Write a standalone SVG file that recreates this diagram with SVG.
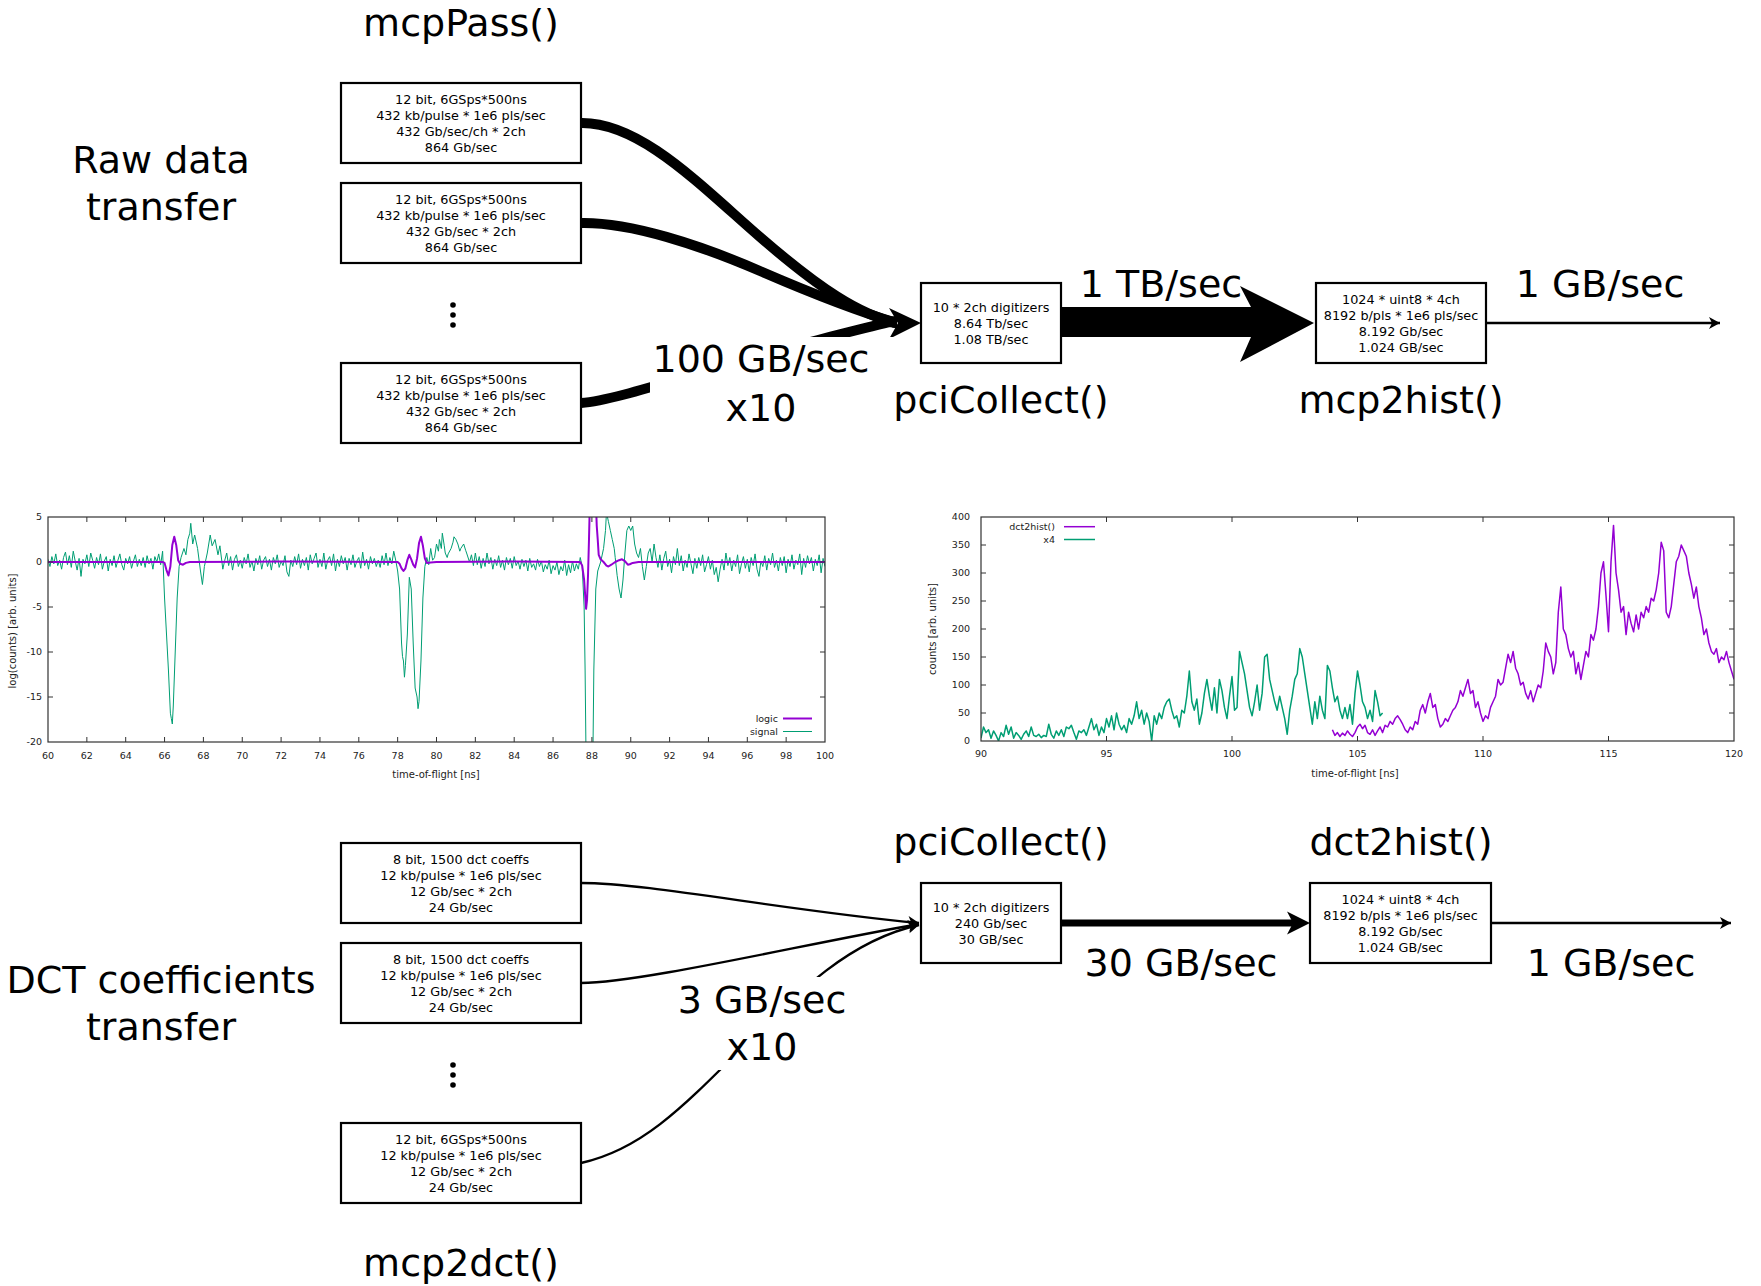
<svg xmlns="http://www.w3.org/2000/svg" width="1761" height="1286" viewBox="0 0 1761 1286">
<style>
.big{font-family:"DejaVu Sans",sans-serif;font-size:38px;text-anchor:middle;fill:#000}
.box rect{fill:#fff;stroke:#000;stroke-width:2.2}
.box text{font-family:"DejaVu Sans",sans-serif;font-size:12.8px;text-anchor:middle;fill:#000}
.thick{fill:none;stroke:#000;stroke-width:10}
.thin{fill:none;stroke:#000;stroke-width:2.4}
.tk{font-family:"DejaVu Sans",sans-serif;font-size:9.5px;fill:#222}
.tx{text-anchor:middle}
.ty{text-anchor:end}
.lab{font-family:"DejaVu Sans",sans-serif;font-size:10px;fill:#222;text-anchor:middle}
.frame{fill:none;stroke:#333;stroke-width:1.2}
.tick{fill:none;stroke:#333;stroke-width:1}
.pur{fill:none;stroke:#9400d3;stroke-linejoin:round;vector-effect:non-scaling-stroke}
.grn{fill:none;stroke:#009e73;stroke-linejoin:round;vector-effect:non-scaling-stroke}
.dot{fill:#000}
</style>
<defs>
<marker id="ahThin" markerUnits="userSpaceOnUse" markerWidth="14" markerHeight="14" refX="11" refY="6" orient="auto" overflow="visible"><path d="M0,0 L11,6 L0,12 L3,6 Z" fill="#000"/></marker>
<marker id="ahMid" markerUnits="userSpaceOnUse" markerWidth="26" markerHeight="24" refX="9" refY="11.5" orient="auto" overflow="visible"><path d="M0,0 L23,11.5 L0,23 L6,11.5 Z" fill="#000"/></marker>
<clipPath id="clipL"><rect x="48" y="517" width="777" height="225"/></clipPath>
<clipPath id="clipR"><rect x="981" y="517" width="753" height="224"/></clipPath>
</defs>
<rect width="1761" height="1286" fill="#fff"/>

<g id="connectors">
<path class="thick" d="M581,123 C640,122 700,185 760,237 S860,315 897,323"/>
<path class="thick" d="M581,223 C630,222 700,245 760,271 S860,312 897,323"/>
<path class="thick" d="M581,403 C620,400 700,370 818,340 S880,325 897,323"/>
<path d="M921,323 L889,308 L898,323 L889,339 Z" fill="#000"/>
<path d="M1061,307 L1251,307 L1240,286 L1314,323 L1240,362 L1251,337 L1061,337 Z" fill="#000"/>
<path class="thin" d="M1486,323 H1720" marker-end="url(#ahThin)"/>
<path class="thin" d="M581,883 C650,883 780,910 919,923" marker-end="url(#ahThin)"/>
<path class="thin" d="M581,983 C640,983 800,945 919,924" marker-end="url(#ahThin)"/>
<path class="thin" d="M581,1163 C640,1150 680,1110 740,1050 S850,940 919,925" marker-end="url(#ahThin)"/>
<path d="M1061,923 H1296" fill="none" stroke="#000" stroke-width="7" marker-end="url(#ahMid)"/>
<path class="thin" d="M1491,923 H1731" marker-end="url(#ahThin)"/>
</g>

<g id="label-100GB">
<rect x="650" y="337" width="255" height="95" fill="#fff"/>
<text class="big" x="761" y="372">100 GB/sec</text>
<text class="big" x="761" y="421">x10</text>
</g>
<g id="label-3GB">
<rect x="676" y="977" width="172" height="93" fill="#fff"/>
<text class="big" x="762" y="1013">3 GB/sec</text>
<text class="big" x="762" y="1060">x10</text>
</g>
<g id="label-1TB"><text class="big" x="1161" y="297">1 TB/sec</text></g>
<g id="label-1GB-top"><text class="big" x="1600" y="297">1 GB/sec</text></g>
<g id="label-30GB"><text class="big" x="1181" y="976">30 GB/sec</text></g>
<g id="label-1GB-bottom"><text class="big" x="1611" y="976">1 GB/sec</text></g>

<g id="title-raw"><text class="big" x="161" y="173">Raw data</text><text class="big" x="161" y="220">transfer</text></g>
<g id="title-dct"><text class="big" x="161" y="993">DCT coefficients</text><text class="big" x="161" y="1040">transfer</text></g>
<g id="title-mcpPass"><text class="big" x="461" y="36">mcpPass()</text></g>
<g id="title-mcp2dct"><text class="big" x="461" y="1276">mcp2dct()</text></g>

<g id="raw1" class="box"><rect x="341" y="83" width="240" height="80"/>
<text x="461" y="104">12 bit, 6GSps*500ns</text><text x="461" y="120">432 kb/pulse * 1e6 pls/sec</text><text x="461" y="136">432 Gb/sec/ch * 2ch</text><text x="461" y="152">864 Gb/sec</text></g>
<g id="raw2" class="box"><rect x="341" y="183" width="240" height="80"/>
<text x="461" y="204">12 bit, 6GSps*500ns</text><text x="461" y="220">432 kb/pulse * 1e6 pls/sec</text><text x="461" y="236">432 Gb/sec * 2ch</text><text x="461" y="252">864 Gb/sec</text></g>
<g id="raw-dots"><circle class="dot" cx="453" cy="305" r="2.8"/><circle class="dot" cx="453" cy="315" r="2.8"/><circle class="dot" cx="453" cy="325" r="2.8"/></g>
<g id="raw3" class="box"><rect x="341" y="363" width="240" height="80"/>
<text x="461" y="384">12 bit, 6GSps*500ns</text><text x="461" y="400">432 kb/pulse * 1e6 pls/sec</text><text x="461" y="416">432 Gb/sec * 2ch</text><text x="461" y="432">864 Gb/sec</text></g>

<g id="pciCollect-top" class="box"><rect x="921" y="283" width="140" height="80"/>
<text x="991" y="312">10 * 2ch digitizers</text><text x="991" y="328">8.64 Tb/sec</text><text x="991" y="344">1.08 TB/sec</text></g>
<g id="pciCollect-top-title"><text class="big" x="1001" y="413">pciCollect()</text></g>
<g id="mcp2hist" class="box"><rect x="1316" y="283" width="170" height="80"/>
<text x="1401" y="304">1024 * uint8 * 4ch</text><text x="1401" y="320">8192 b/pls * 1e6 pls/sec</text><text x="1401" y="336">8.192 Gb/sec</text><text x="1401" y="352">1.024 GB/sec</text></g>
<g id="mcp2hist-title"><text class="big" x="1401" y="413">mcp2hist()</text></g>

<g id="dct1" class="box"><rect x="341" y="843" width="240" height="80"/>
<text x="461" y="864">8 bit, 1500 dct coeffs</text><text x="461" y="880">12 kb/pulse * 1e6 pls/sec</text><text x="461" y="896">12 Gb/sec * 2ch</text><text x="461" y="912">24 Gb/sec</text></g>
<g id="dct2" class="box"><rect x="341" y="943" width="240" height="80"/>
<text x="461" y="964">8 bit, 1500 dct coeffs</text><text x="461" y="980">12 kb/pulse * 1e6 pls/sec</text><text x="461" y="996">12 Gb/sec * 2ch</text><text x="461" y="1012">24 Gb/sec</text></g>
<g id="dct-dots"><circle class="dot" cx="453" cy="1065" r="2.8"/><circle class="dot" cx="453" cy="1075" r="2.8"/><circle class="dot" cx="453" cy="1085" r="2.8"/></g>
<g id="dct3" class="box"><rect x="341" y="1123" width="240" height="80"/>
<text x="461" y="1144">12 bit, 6GSps*500ns</text><text x="461" y="1160">12 kb/pulse * 1e6 pls/sec</text><text x="461" y="1176">12 Gb/sec * 2ch</text><text x="461" y="1192">24 Gb/sec</text></g>

<g id="pciCollect-bottom" class="box"><rect x="921" y="883" width="140" height="80"/>
<text x="991" y="912">10 * 2ch digitizers</text><text x="991" y="928">240 Gb/sec</text><text x="991" y="944">30 GB/sec</text></g>
<g id="pciCollect-bottom-title"><text class="big" x="1001" y="855">pciCollect()</text></g>
<g id="dct2hist" class="box"><rect x="1310" y="883" width="181" height="80"/>
<text x="1400.5" y="904">1024 * uint8 * 4ch</text><text x="1400.5" y="920">8192 b/pls * 1e6 pls/sec</text><text x="1400.5" y="936">8.192 Gb/sec</text><text x="1400.5" y="952">1.024 GB/sec</text></g>
<g id="dct2hist-title"><text class="big" x="1401" y="855">dct2hist()</text></g>

<g id="plot-left">
<g clip-path="url(#clipL)">
<polyline class="grn" stroke-width="1" transform="translate(48,562) scale(19.425,-9) translate(-60,0)" points="60,0.3 60.1,-0.5 60.2,0.6 60.3,-0.2 60.4,0.9 60.5,-0.4 60.6,0.2 60.7,-0.8 60.8,0.5 60.9,1.1 61,-0.3 61.1,0.7 61.2,-0.6 61.3,1.2 61.4,0.1 61.5,-0.9 61.6,0.4 61.7,-1.6 61.8,0.3 61.9,-0.2 62,0.8 62.1,-0.5 62.2,1 62.3,0.2 62.4,-0.7 62.5,0.5 62.6,-0.3 62.7,0.9 62.8,-0.8 62.9,0.1 63,0.6 63.1,-1 63.2,0.3 63.3,-0.4 63.4,0.7 63.5,-0.6 63.6,0.2 63.7,0.9 63.8,-0.3 63.9,-0.9 64,0.4 64.1,-0.2 64.2,0.6 64.3,-0.7 64.4,0.1 64.5,0.8 64.6,-0.5 64.7,0.3 64.8,-0.4 64.9,0.5 65,-0.6 65.1,0.7 65.2,-0.2 65.3,0.4 65.4,-0.8 65.5,0.6 65.6,0 65.7,0.9 65.8,-0.3 65.9,1.2 66,-4 66.1,-8 66.2,-12 66.3,-16.8 66.35,-17.4 66.4,-18 66.45,-16 66.55,-10 66.65,-4 66.75,-0.5 66.85,0.5 67,1.5 67.1,0.8 67.2,2.5 67.3,3.2 67.35,4.3 67.45,2 67.55,3 67.7,1.5 67.85,-1 67.95,-2.5 68.05,-0.5 68.2,1 68.35,3 68.45,1.8 68.6,2.5 68.75,0.8 68.85,1.8 69,-0.8 69.1,0.2 69.2,1 69.3,-0.4 69.4,0.6 69.5,-0.9 69.6,0.3 69.7,0.8 69.8,-0.5 69.9,0.2 70,-0.7 70.1,0.5 70.2,-0.2 70.3,0.9 70.4,-0.6 70.5,0.1 70.6,-1 70.7,0.4 70.8,-0.3 70.9,0.7 71,-0.8 71.1,0.2 71.2,0.6 71.3,-0.5 71.4,0.3 71.5,-0.9 71.6,0.5 71.7,-0.2 71.8,0.8 71.9,-0.6 72,0.1 72.1,-0.4 72.2,0.7 72.3,-1.1 72.4,-1.6 72.5,0.2 72.6,-0.5 72.7,0.6 72.8,-0.3 72.9,0.9 73,-0.7 73.1,0.3 73.2,-0.4 73.3,0.5 73.4,-0.9 73.5,0.8 73.6,-0.2 73.7,0.4 73.8,1 73.9,-0.6 74,0.3 74.1,-0.5 74.2,1 74.3,-0.8 74.4,0.2 74.5,0.6 74.6,-0.4 74.7,0.9 74.8,-1 74.9,0.3 75,-0.5 75.1,0.7 75.2,-0.2 75.3,0.5 75.4,-0.9 75.5,0.4 75.6,-0.3 75.7,0.8 75.8,-0.6 75.9,0.1 76,0.5 76.1,-0.7 76.2,1.1 76.3,-0.4 76.4,0.3 76.5,-0.8 76.6,0.6 76.7,-0.2 76.8,0.4 76.9,-0.5 77,0.2 77.1,-0.6 77.2,0.7 77.3,-0.3 77.4,1 77.5,-0.4 77.6,0.5 77.7,-0.2 77.8,1.2 77.9,0.2 78,-1 78.1,-3 78.2,-9 78.25,-10.5 78.3,-11 78.35,-12.8 78.4,-11.5 78.5,-8 78.6,-1.7 78.7,-3 78.8,-9 78.9,-14 79,-15 79.05,-16.3 79.1,-15.5 79.2,-11 79.3,-4 79.4,-0.5 79.5,0.5 79.6,-0.3 79.7,1.5 79.8,0.2 79.9,0.5 80,2 80.1,1.2 80.15,2.5 80.25,1.5 80.3,3.2 80.4,1.8 80.45,1 80.55,0.5 80.6,0.9 80.75,1.5 80.85,2.2 80.9,2.8 81,2.5 81.1,2 81.2,1.2 81.25,1.5 81.4,2 81.5,1.3 81.55,1 81.7,0 81.8,0.8 81.9,-0.4 82,1 82.1,-0.3 82.2,0.6 82.3,-0.7 82.4,0.4 82.5,-0.5 82.6,1 82.7,-0.2 82.8,0.5 82.9,-0.8 83,0.3 83.1,-0.4 83.2,0.7 83.3,-0.6 83.4,0.2 83.5,-0.9 83.6,0.5 83.7,-0.3 83.8,0.4 83.9,-0.7 84,0.6 84.1,-0.4 84.2,0.1 84.3,-0.8 84.4,0.3 84.5,-0.5 84.6,0.2 84.7,-1 84.8,0.4 84.9,-0.6 85,-0.2 85.1,-0.9 85.2,0.3 85.3,-0.5 85.4,0.1 85.5,-1.1 85.6,-0.3 85.7,-0.8 85.8,0.2 85.9,-1.3 86,-0.4 86.1,-0.9 86.2,0 86.3,-1.4 86.4,-0.5 86.5,-1 86.6,0.2 86.7,-1.5 86.8,-0.3 86.9,-1.2 87,0.1 87.1,-1 87.2,-0.2 87.3,-0.8 87.4,0.5 87.5,-0.5 87.6,-5 87.65,-12 87.7,-22 88.05,-22 88.1,-12 88.2,-3 88.3,-1 88.45,0 88.6,1.5 88.7,3.5 88.75,5.5 88.85,4.5 88.95,3.5 89.05,2.5 89.15,1.5 89.2,0.5 89.3,-1.5 89.4,-3 89.5,-4 89.6,-2 89.7,1 89.8,3.5 89.9,4 90,3.5 90.1,4 90.2,2 90.3,1 90.4,0.5 90.5,1.5 90.6,-0.5 90.7,-2 90.8,-0.5 90.9,1 91,1.5 91.1,0 91.2,2 91.3,0.5 91.4,-0.6 91.5,0.8 91.6,-0.9 91.7,0.4 91.8,1.2 91.9,-0.5 92,0.3 92.1,-1.2 92.2,0.6 92.3,-0.3 92.4,1.5 92.5,-0.4 92.6,0.7 92.7,-1 92.8,0.2 92.9,-0.6 93,0.9 93.1,-0.2 93.2,-1.3 93.3,0.4 93.4,-0.7 93.5,0.5 93.6,-0.4 93.7,0.8 93.8,-1.1 93.9,-0.3 94,0.6 94.1,-0.8 94.2,0.2 94.3,-1.4 94.4,-0.6 94.5,-2.2 94.6,-0.8 94.7,0.3 94.8,-0.9 94.9,1 95,-0.4 95.1,0.5 95.2,-1 95.3,0.2 95.4,-0.5 95.5,0.8 95.6,-1.3 95.7,-0.2 95.8,0.6 95.9,-0.7 96,0.3 96.1,-1.1 96.2,0.5 96.3,-0.4 96.4,0.9 96.5,-0.8 96.6,-1.6 96.7,0.1 96.8,-0.5 96.9,0.7 97,-0.9 97.1,0.4 97.2,-0.3 97.3,1 97.4,-0.6 97.5,0.2 97.6,-1 97.7,0.5 97.8,-0.4 97.9,0.6 98,-1.2 98.1,0.3 98.2,-0.5 98.3,0.8 98.4,-0.8 98.5,0.2 98.6,-0.3 98.7,0.9 98.8,-1.4 98.9,0.4 99,-0.6 99.1,0.7 99.2,-0.2 99.3,0.5 99.4,-1 99.5,0.3 99.6,-0.4 99.7,0.8 99.8,-1.2 99.9,0.4 100,-0.5"/>
<polyline class="pur" stroke-width="2" transform="translate(48,562) scale(19.425,-9) translate(-60,0)" points="60,0 65.9,0 66,-0.1 66.1,-0.9 66.2,-1.5 66.3,-0.5 66.4,1.9 66.5,2.8 66.6,1.9 66.7,0.2 66.8,-0.2 66.95,-0.3 67.1,-0.1 67.3,0 72,0.05 78,0 78.1,-0.2 78.2,-0.7 78.3,-1 78.4,-0.7 78.5,0.2 78.6,0.8 78.7,0.3 78.8,-0.3 78.9,-0.6 79,0.4 79.1,2.1 79.2,2.8 79.3,1.8 79.4,0.4 79.5,-0.1 79.7,-0.05 80,0 84,0.05 87.4,0 87.5,-0.4 87.6,-2 87.7,-5.2 87.75,-4.2 87.8,-1.5 87.85,2.5 87.9,7 88.2,7 88.25,4 88.3,2.5 88.35,0.8 88.45,0.3 88.6,0 88.75,-0.4 88.85,-0.5 89,-0.3 89.2,0 89.4,0.2 89.55,0.3 89.7,0.1 89.85,-0.3 89.95,-0.25 90.1,-0.1 90.4,0 100,0"/>
</g>
<rect class="frame" x="48" y="517" width="777" height="225"/>
<path class="tick" d="M86.85,742v-5M86.85,517v5M125.7,742v-5M125.7,517v5M164.55,742v-5M164.55,517v5M203.4,742v-5M203.4,517v5M242.25,742v-5M242.25,517v5M281.1,742v-5M281.1,517v5M319.95,742v-5M319.95,517v5M358.8,742v-5M358.8,517v5M397.65,742v-5M397.65,517v5M436.5,742v-5M436.5,517v5M475.35,742v-5M475.35,517v5M514.2,742v-5M514.2,517v5M553.05,742v-5M553.05,517v5M591.9,742v-5M591.9,517v5M630.75,742v-5M630.75,517v5M669.6,742v-5M669.6,517v5M708.45,742v-5M708.45,517v5M747.3,742v-5M747.3,517v5M786.15,742v-5M786.15,517v5M48,562h5M825,562h-5M48,607h5M825,607h-5M48,652h5M825,652h-5M48,697h5M825,697h-5"/>
<g class="tk ty"><text x="42" y="520.4">5</text><text x="42" y="565.4">0</text><text x="42" y="610.4">-5</text><text x="42" y="655.4">-10</text><text x="42" y="700.4">-15</text><text x="42" y="745.4">-20</text></g>
<g class="tk tx"><text x="48" y="759">60</text><text x="86.85" y="759">62</text><text x="125.7" y="759">64</text><text x="164.55" y="759">66</text><text x="203.4" y="759">68</text><text x="242.25" y="759">70</text><text x="281.1" y="759">72</text><text x="319.95" y="759">74</text><text x="358.8" y="759">76</text><text x="397.65" y="759">78</text><text x="436.5" y="759">80</text><text x="475.35" y="759">82</text><text x="514.2" y="759">84</text><text x="553.05" y="759">86</text><text x="591.9" y="759">88</text><text x="630.75" y="759">90</text><text x="669.6" y="759">92</text><text x="708.45" y="759">94</text><text x="747.3" y="759">96</text><text x="786.15" y="759">98</text><text x="825" y="759">100</text></g>
<text class="lab" x="436" y="778">time-of-flight [ns]</text>
<text class="lab" transform="translate(16,631) rotate(-90)">log(counts) [arb. units]</text>
<g class="tk ty"><text x="778" y="721.5">logic</text><text x="778" y="734.5">signal</text></g>
<path d="M783,718.5H812" stroke="#9400d3" stroke-width="2"/>
<path d="M783,731.5H812" stroke="#009e73" stroke-width="1"/>
</g>

<g id="plot-right">
<g clip-path="url(#clipR)">
<polyline class="grn" stroke-width="1.5" transform="translate(981,741) scale(25.1,-0.56) translate(-90,0)" points="90,5 90.1,25 90.2,15 90.3,20 90.4,5 90.5,18 90.6,10 90.7,0 90.8,15 90.9,8 91,28 91.1,12 91.2,25 91.3,5 91.4,15 91.5,10 91.6,3 91.7,12 91.8,18 91.9,8 92,25 92.1,10 92.2,8 92.3,12 92.4,6 92.5,10 92.6,8 92.7,30 92.8,12 92.9,5 93,18 93.1,10 93.2,20 93.3,8 93.4,25 93.5,22 93.6,28 93.7,15 93.8,3 93.9,18 94,15 94.1,20 94.2,10 94.3,25 94.4,40 94.5,20 94.6,30 94.7,10 94.8,25 94.9,15 95,40 95.1,25 95.2,45 95.3,20 95.4,50 95.5,30 95.6,20 95.7,28 95.8,15 95.9,40 96,30 96.1,45 96.2,70 96.3,40 96.4,55 96.5,30 96.6,50 96.7,35 96.8,0 96.9,45 97,30 97.1,50 97.2,40 97.3,60 97.4,70 97.5,75 97.6,55 97.7,40 97.8,45 97.9,25 98,55 98.1,50 98.2,80 98.3,125 98.4,70 98.5,55 98.6,75 98.7,30 98.8,50 98.9,85 99,110 99.1,80 99.2,55 99.3,95 99.4,50 99.5,110 99.6,90 99.7,60 99.8,40 99.9,80 100,115 100.1,55 100.2,60 100.3,160 100.4,140 100.5,120 100.6,90 100.7,60 100.8,45 100.9,70 101,100 101.1,55 101.2,85 101.3,150 101.4,155 101.5,110 101.6,90 101.7,70 101.8,55 101.9,80 102,60 102.1,40 102.2,12 102.3,55 102.4,80 102.5,110 102.6,120 102.7,165 102.8,150 102.9,120 103,90 103.1,60 103.2,30 103.3,70 103.4,40 103.5,80 103.6,55 103.7,40 103.8,135 103.9,125 104,95 104.1,70 104.2,80 104.3,55 104.4,40 104.5,60 104.6,40 104.7,65 104.8,30 104.9,85 105,125 105.1,100 105.2,70 105.3,60 105.4,40 105.5,55 105.6,35 105.7,90 105.8,70 105.9,45 106,50"/>
<polyline class="pur" stroke-width="1.5" transform="translate(981,741) scale(25.1,-0.56) translate(-90,0)" points="104,20 104.1,10 104.2,15 104.3,8 104.4,14 104.5,10 104.6,18 104.7,12 104.8,8 104.9,15 105,25 105.1,30 105.2,22 105.3,28 105.4,15 105.5,12 105.6,20 105.7,10 105.8,18 105.9,25 106,15 106.1,28 106.2,25 106.3,35 106.4,30 106.5,40 106.6,45 106.7,38 106.8,30 106.9,20 107,15 107.1,25 107.2,20 107.3,35 107.4,30 107.5,55 107.6,65 107.7,50 107.8,70 107.9,85 108,60 108.1,65 108.2,40 108.3,25 108.4,30 108.5,40 108.6,35 108.7,45 108.8,55 108.9,60 109,70 109.1,90 109.2,80 109.3,95 109.4,110 109.5,85 109.6,90 109.7,60 109.8,70 109.9,50 110,35 110.1,45 110.2,40 110.3,60 110.4,70 110.5,80 110.6,110 110.7,100 110.8,105 110.9,130 111,155 111.1,140 111.2,160 111.3,130 111.4,120 111.5,100 111.6,105 111.7,85 111.8,75 111.9,90 112,70 112.1,85 112.2,100 112.3,95 112.4,125 112.5,175 112.6,160 112.7,150 112.8,120 112.9,140 113,230 113.1,275 113.2,200 113.3,190 113.4,165 113.5,150 113.6,160 113.7,120 113.8,140 113.9,110 114,135 114.1,160 114.2,150 114.3,190 114.4,180 114.5,200 114.6,240 114.7,300 114.8,320 114.9,260 115,195 115.1,320 115.2,385 115.3,300 115.4,270 115.5,230 115.6,240 115.7,190 115.8,230 115.9,210 116,195 116.1,225 116.2,200 116.3,230 116.4,220 116.5,240 116.6,230 116.7,255 116.8,250 116.9,270 117,300 117.1,355 117.2,340 117.3,230 117.4,220 117.5,240 117.6,280 117.7,320 117.8,330 117.9,350 118,340 118.1,330 118.2,300 118.3,280 118.4,255 118.5,275 118.6,240 118.7,220 118.8,190 118.9,200 119,175 119.1,160 119.2,155 119.3,165 119.4,140 119.5,150 119.6,145 119.7,160 119.8,140 119.9,125 120,110"/>
</g>
<rect class="frame" x="981" y="517" width="753" height="224"/>
<path class="tick" d="M1106.5,741v-5M1106.5,517v5M1232,741v-5M1232,517v5M1357.5,741v-5M1357.5,517v5M1483,741v-5M1483,517v5M1608.5,741v-5M1608.5,517v5M981,713h5M1734,713h-5M981,685h5M1734,685h-5M981,657h5M1734,657h-5M981,629h5M1734,629h-5M981,601h5M1734,601h-5M981,573h5M1734,573h-5M981,545h5M1734,545h-5"/>
<g class="tk ty"><text x="970" y="520.4">400</text><text x="970" y="548.4">350</text><text x="970" y="576.4">300</text><text x="970" y="604.4">250</text><text x="970" y="632.4">200</text><text x="970" y="660.4">150</text><text x="970" y="688.4">100</text><text x="970" y="716.4">50</text><text x="970" y="744.4">0</text></g>
<g class="tk tx"><text x="981" y="757">90</text><text x="1106.5" y="757">95</text><text x="1232" y="757">100</text><text x="1357.5" y="757">105</text><text x="1483" y="757">110</text><text x="1608.5" y="757">115</text><text x="1734" y="757">120</text></g>
<text class="lab" x="1355" y="777">time-of-flight [ns]</text>
<text class="lab" transform="translate(935.5,629) rotate(-90)">counts [arb. units]</text>
<g class="tk ty"><text x="1055" y="530">dct2hist()</text><text x="1055" y="543">x4</text></g>
<path d="M1064,526.7H1095" stroke="#9400d3" stroke-width="1.5"/>
<path d="M1064,539.5H1095" stroke="#009e73" stroke-width="1.5"/>
</g>
</svg>
